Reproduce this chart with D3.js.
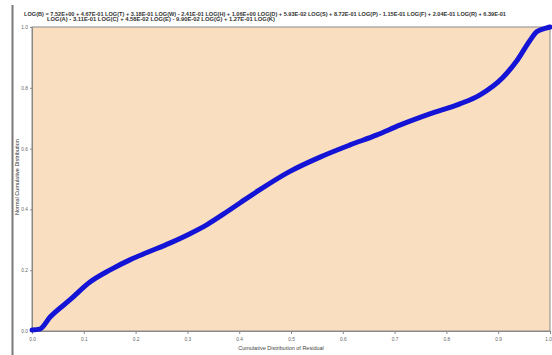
<!DOCTYPE html>
<html>
<head>
<meta charset="utf-8">
<script src="https://cdn.jsdelivr.net/npm/d3@7/dist/d3.min.js"></script>
<style>
  html, body { margin: 0; padding: 0; background: #ffffff; }
  svg { display: block; }
</style>
</head>
<body>
<script>
// Cumulative distribution of residuals (x) against the normal cumulative distribution (y)
const residualCdf = [0.000, 0.015, 0.035, 0.073, 0.112, 0.151, 0.189, 0.222, 0.266, 0.305, 0.338,
  0.370, 0.402, 0.440, 0.498, 0.556, 0.614, 0.666, 0.710, 0.768, 0.826, 0.865, 0.909, 0.936,
  0.961, 0.975, 0.994, 1.000];
const normalCdf = [0.003, 0.006, 0.046, 0.102, 0.161, 0.201, 0.234, 0.258, 0.289, 0.320, 0.350,
  0.385, 0.422, 0.465, 0.525, 0.572, 0.612, 0.645, 0.677, 0.714, 0.747, 0.777, 0.834, 0.889,
  0.955, 0.985, 0.997, 1.000];
const xTicks = [0.0, 0.1, 0.2, 0.3, 0.4, 0.5, 0.6, 0.7, 0.8, 0.9, 1.0];
const yTicks = [0.0, 0.2, 0.4, 0.6, 0.8, 1.0];
const headerLines = [
  "LOG(B) = 7.52E+00 + 4.67E-01 LOG(T) + 3.18E-01 LOG(W) - 2.41E-01 LOG(H) + 1.06E+00 LOG(D) + 5.93E-02 LOG(S) + 8.72E-01 LOG(P) - 1.15E-01 LOG(F) + 2.04E-01 LOG(R) + 6.39E-01",
  "LOG(A) - 3.11E-01 LOG(C) + 4.58E-02 LOG(E) - 9.90E-02 LOG(G) + 1.27E-01 LOG(K)"
];
const xTitle = "Cumulative Distribution of Residual";
const yTitle = "Normal Cumulative Distribution";

const W = 552, H = 355;
const plot = { left: 32, top: 27, right: 550, bottom: 331 };

const svg = d3.select("body").append("svg").attr("width", W).attr("height", H);

// window edge at the left
svg.append("line")
  .attr("x1", 12.5).attr("x2", 12.5).attr("y1", 5).attr("y2", H)
  .attr("stroke", "#7a7a7a").attr("stroke-width", 2);

const x = d3.scaleLinear().domain([0, 1]).range([plot.left, plot.right]);
const y = d3.scaleLinear().domain([0, 1]).range([plot.bottom, plot.top]);

// plot background
svg.append("rect")
  .attr("x", plot.left).attr("y", plot.top)
  .attr("width", plot.right - plot.left).attr("height", plot.bottom - plot.top)
  .attr("fill", "#f9dfc0").attr("stroke", "#8a8a8a").attr("stroke-width", 1);

// header equation text
svg.selectAll("text.hdr").data(headerLines).join("text")
  .attr("class", "hdr")
  .attr("x", (d, i) => i === 0 ? 24 : 47)
  .attr("y", (d, i) => 16 + i * 5)
  .attr("font-family", "Liberation Sans, Arial, sans-serif")
  .attr("font-size", 4.6)
  .attr("font-weight", "bold")
  .attr("fill", "#333")
  .attr("textLength", (d, i) => i === 0 ? 482 : 228)
  .attr("lengthAdjust", "spacingAndGlyphs")
  .text(d => d);

// x axis
const xAxis = d3.axisBottom(x).tickValues(xTicks).tickSize(3).tickPadding(4)
  .tickFormat(d3.format(".1f"));
const gx = svg.append("g").attr("transform", `translate(0,${plot.bottom})`).call(xAxis);
gx.select(".domain").attr("stroke", "#8a8a8a");
gx.selectAll(".tick line").attr("stroke", "#8a8a8a");
gx.selectAll(".tick text").attr("font-size", 4.8).attr("fill", "#666")
  .attr("font-family", "Liberation Sans, Arial, sans-serif")
  .attr("text-anchor", d => d === 1 ? "end" : "middle")
  .attr("dx", d => d === 1 ? 1.5 : 0);

// y axis
const yAxis = d3.axisLeft(y).tickValues(yTicks).tickSize(2).tickPadding(2)
  .tickFormat(d3.format(".1f"));
const gy = svg.append("g").attr("transform", `translate(${plot.left},0)`).call(yAxis);
gy.select(".domain").attr("stroke", "#8a8a8a");
gy.selectAll(".tick line").attr("stroke", "#8a8a8a");
gy.selectAll(".tick text").attr("font-size", 4.8).attr("fill", "#666")
  .attr("font-family", "Liberation Sans, Arial, sans-serif");

// axis titles
svg.append("text")
  .attr("x", 281).attr("y", 350)
  .attr("text-anchor", "middle")
  .attr("font-family", "Liberation Sans, Arial, sans-serif")
  .attr("font-size", 5.5).attr("fill", "#444")
  .text(xTitle);

svg.append("text")
  .attr("transform", "translate(19,177) rotate(-90)")
  .attr("text-anchor", "middle")
  .attr("font-family", "Liberation Sans, Arial, sans-serif")
  .attr("font-size", 5.5).attr("fill", "#333")
  .text(yTitle);

// the distribution curve
const pts = residualCdf.map((v, i) => [v, normalCdf[i]]);
const line = d3.line().x(d => x(d[0])).y(d => y(d[1])).curve(d3.curveMonotoneX);
svg.append("path")
  .datum(pts)
  .attr("d", line)
  .attr("fill", "none")
  .attr("stroke", "#1414d6")
  .attr("stroke-width", 5)
  .attr("stroke-linecap", "round")
  .attr("stroke-linejoin", "round");
</script>
</body>
</html>
